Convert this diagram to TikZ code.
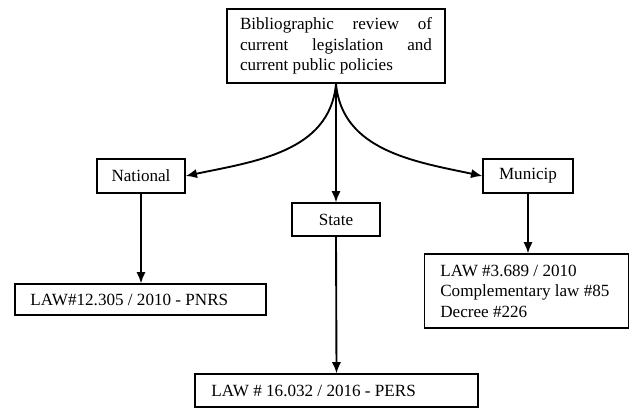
\documentclass[tikz,border=0pt]{standalone}
\usepackage{fontspec}
\setmainfont{Liberation Serif}
\usetikzlibrary{arrows.meta}

\begin{document}
\begin{tikzpicture}[
        x=0.03cm, y=-0.03cm,
        every node/.style={font=\fontsize{14.6}{17.5}\selectfont},
        box/.style={draw, rectangle, line width=1.1pt, inner sep=0pt},
        link/.style={-{Latex[length=3.4mm,width=2.8mm]}, line width=1.6pt}
    ]
        \useasboundingbox (0,0) rectangle (629,410);

        % Caixa principal
        \node[box, minimum width=6.54cm, minimum height=2.22cm,
              text width=5.76cm, align=justify] (review) at (336,46)
            {Bibliographic review of\linebreak current legislation and\linebreak current public policies};

        % Esferas
        \node[box, minimum width=2.64cm, minimum height=1.02cm] (national) at (141,176) {National};
        \node[box, minimum width=2.64cm, minimum height=0.99cm] (state) at (336,219.5) {State};
        \node[box, minimum width=2.7cm, minimum height=1.02cm] (municip) at (528,176) {Municip};

        % Leis
        \node[box, minimum width=7.53cm, minimum height=0.93cm] (pnrs) at (140.5,299.5) {};
        \node[anchor=west] at ([xshift=12*0.03cm]pnrs.west) {LAW\#12.305 / 2010 - PNRS};
        \node[box, minimum width=8.49cm, minimum height=0.99cm] (pers) at (336.5,390.5) {};
        \node[anchor=west] at ([xshift=13*0.03cm]pers.west) {LAW \# 16.032 / 2016 - PERS};
        \node[box, minimum width=6.1cm, minimum height=2.22cm] (munlaws) at (526.5,291) {};
        \node[anchor=west, align=left] at ([xshift=12*0.03cm]munlaws.west)
            {LAW \#3.689 / 2010\\ Complementary law \#85\\ Decree \#226};

        % Ligações
        \draw[link] (review.south) to[out=-95, in=12] (national.east);
        \draw[link] (review.south) to[out=-85, in=168] (municip.west);
        \draw[link] (review.south) -- (state.north);
        \draw[link] (national.south) -- (pnrs.north -| national.south);
        \draw[link] (state.south) -- (pers.north);
        \draw[link] (municip.south) -- (munlaws.north -| municip.south);
    \end{tikzpicture}
\end{document}
